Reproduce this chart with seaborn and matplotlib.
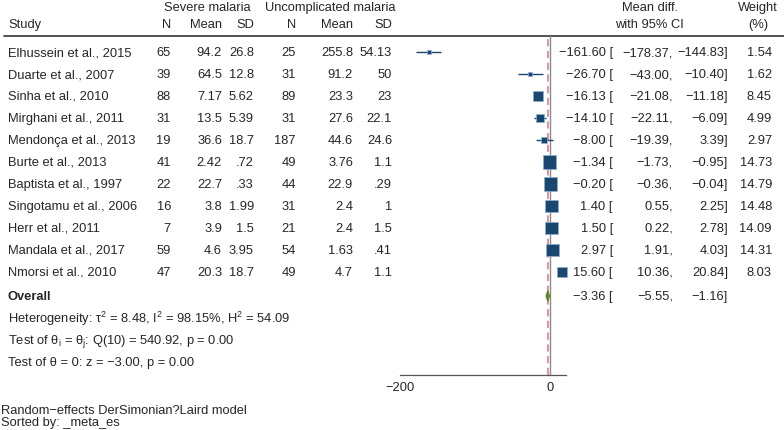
import numpy as np
import pandas as pd
import matplotlib
matplotlib.use("Agg")
import matplotlib.pyplot as plt
import seaborn as sns

studies = ["Elhussein et al., 2015", "Duarte et al., 2007", "Sinha et al., 2010",
           "Mirghani et al., 2011", "Mendonça et al., 2013", "Burte et al., 2013",
           "Baptista et al., 1997", "Singotamu et al., 2006", "Herr et al., 2011",
           "Mandala et al., 2017", "Nmorsi et al., 2010"]
sev_n = ["65", "39", "88", "31", "19", "41", "22", "16", "7", "59", "47"]
sev_mean = ["94.2", "64.5", "7.17", "13.5", "36.6", "2.42", "22.7", "3.8", "3.9", "4.6", "20.3"]
sev_sd = ["26.8", "12.8", "5.62", "5.39", "18.7", ".72", ".33", "1.99", "1.5", "3.95", "18.7"]
unc_n = ["25", "31", "89", "31", "187", "49", "44", "31", "21", "54", "49"]
unc_mean = ["255.8", "91.2", "23.3", "27.6", "44.6", "3.76", "22.9", "2.4", "2.4", "1.63", "4.7"]
unc_sd = ["54.13", "50", "23", "22.1", "24.6", "1.1", ".29", "1", "1.5", ".41", "1.1"]
es = [-161.60, -26.70, -16.13, -14.10, -8.00, -1.34, -0.20, 1.40, 1.50, 2.97, 15.60]
lo = [-178.37, -43.00, -21.08, -22.11, -19.39, -1.73, -0.36, 0.55, 0.22, 1.91, 10.36]
hi = [-144.83, -10.40, -11.18, -6.09, 3.39, -0.95, -0.04, 2.25, 2.78, 4.03, 20.84]
weight = [1.54, 1.62, 8.45, 4.99, 2.97, 14.73, 14.79, 14.48, 14.09, 14.31, 8.03]
overall = (-3.36, -5.55, -1.16)

df = pd.DataFrame({"study": studies, "es": es, "lo": lo, "hi": hi, "weight": weight})
df["row"] = np.arange(len(df))

sns.set_style("white")
plt.rcParams["font.family"] = ["Liberation Sans", "DejaVu Sans"]
plt.rcParams["mathtext.fontset"] = "custom"
plt.rcParams["mathtext.rm"] = "Liberation Sans"
plt.rcParams["mathtext.it"] = "Liberation Sans:italic"
plt.rcParams["axes.unicode_minus"] = True

W, H = 784, 431
fig = plt.figure(figsize=(W / 100, H / 100), dpi=100)

# text layer in pixel coordinates
tax = fig.add_axes([0, 0, 1, 1])
tax.set_xlim(0, W)
tax.set_ylim(H, 0)
tax.axis("off")

top, bottom = 36.5, 376
y0, dy = 53, 22
fs = 9.3


def rowy(i):
    return y0 + dy * i


# forest axes
ax = fig.add_axes([400 / W, (H - bottom) / H, 166 / W, (bottom - top) / H])
ax.set_xlim(-200, 20.84)
ax.set_ylim((bottom - y0) / dy, (top - y0) / dy)
ax.patch.set_alpha(0)
for s in ["top", "right", "left"]:
    ax.spines[s].set_visible(False)
ax.spines["bottom"].set_color("#555555")
ax.spines["bottom"].set_linewidth(0.9)
ax.set_xticks([-200, 0])
ax.set_xticklabels(["\u2212200", "0"], fontsize=fs)
ax.tick_params(axis="x", direction="out", length=3, width=0.8, color="#555555", pad=1)
ax.set_yticks([])

ax.axvline(0, color="#8a8a8a", lw=1.0, zorder=1)
ax.axvline(overall[0], color="#de8aa0", lw=1.3, ls=(0, (4, 2.5)), zorder=1)

ax.hlines(df["row"], df["lo"], df["hi"], color="#1a476f", lw=1.0, zorder=2)
sns.scatterplot(data=df, x="es", y="row", size="weight",
                sizes=(6 * min(weight), 6 * max(weight)), marker="s",
                color="#1a476f", edgecolor="#8fb0d0", linewidth=0.5,
                legend=False, ax=ax, zorder=3, clip_on=False)
ax.set_xlabel("")
ax.set_ylabel("")

orow = (297 - y0) / dy
dh = 0.24
ax.fill([overall[1], overall[0], overall[2], overall[0]],
        [orow, orow - dh, orow, orow + dh], color="#5f8a2e", zorder=3)

# header
tax.plot([4, W], [top, top], color="#333333", lw=1.2)
tax.text(207, 8, "Severe malaria", ha="center", va="center", fontsize=fs)
tax.text(330, 8, "Uncomplicated malaria", ha="center", va="center", fontsize=fs)
tax.text(650, 8, "Mean diff.", ha="center", va="center", fontsize=fs)
tax.text(758, 8, "Weight", ha="center", va="center", fontsize=fs)
hy = 25
tax.text(8, hy, "Study", ha="left", va="center", fontsize=fs)
cols = [171, 222, 254, 296, 353, 392]
for x, lab in zip(cols, ["N", "Mean", "SD", "N", "Mean", "SD"]):
    tax.text(x, hy, lab, ha="right", va="center", fontsize=fs)
tax.text(649, hy, "with 95% CI", ha="center", va="center", fontsize=fs)
tax.text(758, hy, "(%)", ha="center", va="center", fontsize=fs)


def m(v):
    return ("%.2f" % v).replace("-", "\u2212")


for i in range(len(studies)):
    y = rowy(i)
    tax.text(8, y, studies[i], ha="left", va="center", fontsize=fs)
    for x, col in zip(cols, [sev_n, sev_mean, sev_sd, unc_n, unc_mean, unc_sd]):
        tax.text(x, y, col[i], ha="right", va="center", fontsize=fs)
    tax.text(613, y, m(es[i]) + " [", ha="right", va="center", fontsize=fs)
    tax.text(673, y, m(lo[i]) + ",", ha="right", va="center", fontsize=fs)
    tax.text(728, y, m(hi[i]) + "]", ha="right", va="center", fontsize=fs)
    tax.text(772, y, "%.2f" % weight[i], ha="right", va="center", fontsize=fs)

y = 297
tax.text(8, y, "Overall", ha="left", va="center", fontsize=fs, fontweight="bold")
tax.text(613, y, m(overall[0]) + " [", ha="right", va="center", fontsize=fs)
tax.text(673, y, m(overall[1]) + ",", ha="right", va="center", fontsize=fs)
tax.text(728, y, m(overall[2]) + "]", ha="right", va="center", fontsize=fs)

tax.text(8, 319, "Heterogeneity: \u03c4$^2$ = 8.48, I$^2$ = 98.15%, H$^2$ = 54.09",
         ha="left", va="center", fontsize=fs)
tax.text(8, 341, "Test of \u03b8$_\\mathrm{i}$ = \u03b8$_\\mathrm{j}$: Q(10) = 540.92, p = 0.00",
         ha="left", va="center", fontsize=fs)
tax.text(8, 363, "Test of \u03b8 = 0: z = \u22123.00, p = 0.00",
         ha="left", va="center", fontsize=fs)

tax.text(1, 411, "Random\u2212effects DerSimonian?Laird model", ha="left", va="center", fontsize=fs)
tax.text(1, 423, "Sorted by: _meta_es", ha="left", va="center", fontsize=fs)

fig.savefig("out.png", dpi=100)
